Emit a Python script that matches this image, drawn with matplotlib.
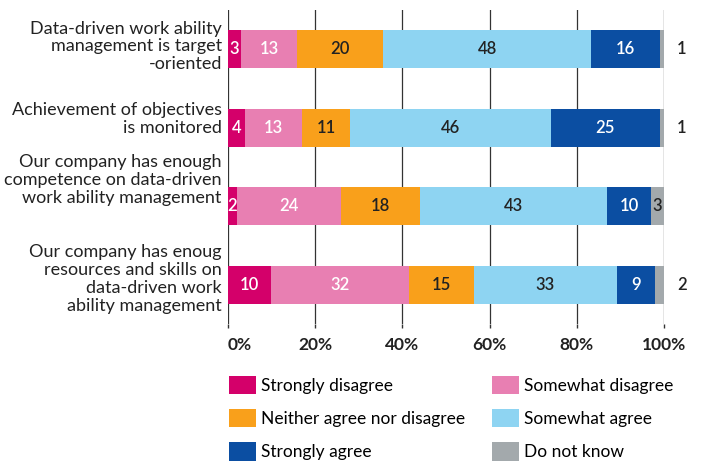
import numpy as np
import matplotlib.pyplot as plt
from matplotlib.patches import Patch

plt.rcParams['font.family'] = ['Lato', 'DejaVu Sans']

# Dados
categorias = ['Data-driven work ability\nmanagement is target\n-oriented',
              'Achievement of objectives\nis monitored',
              'Our company has enough\ncompetence on data-driven\nwork ability management',
              'Our company has enoug\nresources and skills on\ndata-driven work\nability management']
respostas = ['Strongly disagree', 'Somewhat disagree', 'Neither agree nor disagree',
             'Somewhat agree', 'Strongly agree', 'Do not know']
strongly_disagree = [3, 4, 2, 10]
somewhat_disagree = [13, 13, 24, 32]
neither = [20, 11, 18, 15]
somewhat_agree = [48, 46, 43, 33]
strongly_agree = [16, 25, 10, 9]
do_not_know = [1, 1, 3, 2]
xticks = [0, 20, 40, 60, 80, 100]
xticklabels = ['0%', '20%', '40%', '60%', '80%', '100%']

cores = ['#D4006A', '#E87FB2', '#F9A01B', '#8ED4F2', '#0B4EA2', '#A3A9AC']
cor_texto = ['white', 'white', '#222222', '#222222', 'white', '#222222']

series = np.array([strongly_disagree, somewhat_disagree, neither,
                   somewhat_agree, strongly_agree, do_not_know], dtype=float)
# 100% empilhado: normaliza cada linha
pct = series / series.sum(axis=0) * 100

fig = plt.figure(figsize=(7.04, 4.61), dpi=100)
ax = fig.add_axes([228/704, 1 - 324/461, 436/704, 314/461])

y = np.arange(len(categorias))
esq = np.zeros(len(categorias))
for k in range(len(respostas)):
    ax.barh(y, pct[k], left=esq, height=0.49, color=cores[k], zorder=3,
            label=respostas[k])
    for i in range(len(categorias)):
        v = int(series[k, i])
        meio = esq[i] + pct[k, i] / 2
        if k == 5 and v < 3:
            # rótulo fora da barra
            ax.annotate(str(v), xy=(100, y[i]), xytext=(13, 0),
                        textcoords='offset points', ha='center', va='center',
                        fontsize=12, fontweight='semibold', color='#222222')
        else:
            ax.text(meio, y[i], str(v), ha='center', va='center', fontsize=12,
                    fontweight='semibold', color=cor_texto[k], zorder=4)
    esq = esq + pct[k]

ax.set_xlim(0, 100)
ax.set_ylim(len(categorias) - 0.5, -0.5)
ax.set_xticks(xticks)
ax.set_xticklabels(xticklabels, fontsize=12.5, fontweight='bold', color='#222222')
ax.get_xticklabels()[0].set_horizontalalignment('left')
ax.set_yticks([])

# rótulos das categorias, um pouco acima do centro da barra (como no original)
desloc = [2, 6, 19, 4]
for i, (lab, d) in enumerate(zip(categorias, desloc)):
    ax.annotate(lab, xy=(0, y[i]), xycoords=('axes fraction', 'data'),
                xytext=(-4.5, d), textcoords='offset points', ha='right',
                va='center', fontsize=13, color='#222222', linespacing=1.15)

ax.tick_params(axis='x', length=3, width=1, color='#333333', pad=6)
ax.grid(axis='x', color='#333333', linewidth=0.9, zorder=0)
for s in ax.spines.values():
    s.set_visible(False)

# Legenda em duas colunas
h = [Patch(facecolor=c) for c in cores]
kw = dict(frameon=False, fontsize=12.5, handlelength=1.55, handleheight=1.25,
          handletextpad=0.3, labelspacing=0.85, borderpad=0, borderaxespad=0)
leg1 = fig.legend([h[0], h[2], h[4]], [respostas[0], respostas[2], respostas[4]],
                  loc='upper left', bbox_to_anchor=(229/704, 1 - 376/461), **kw)
leg2 = fig.legend([h[1], h[3], h[5]], [respostas[1], respostas[3], respostas[5]],
                  loc='upper left', bbox_to_anchor=(492/704, 1 - 376/461), **kw)

plt.savefig('out.png', dpi=100)
